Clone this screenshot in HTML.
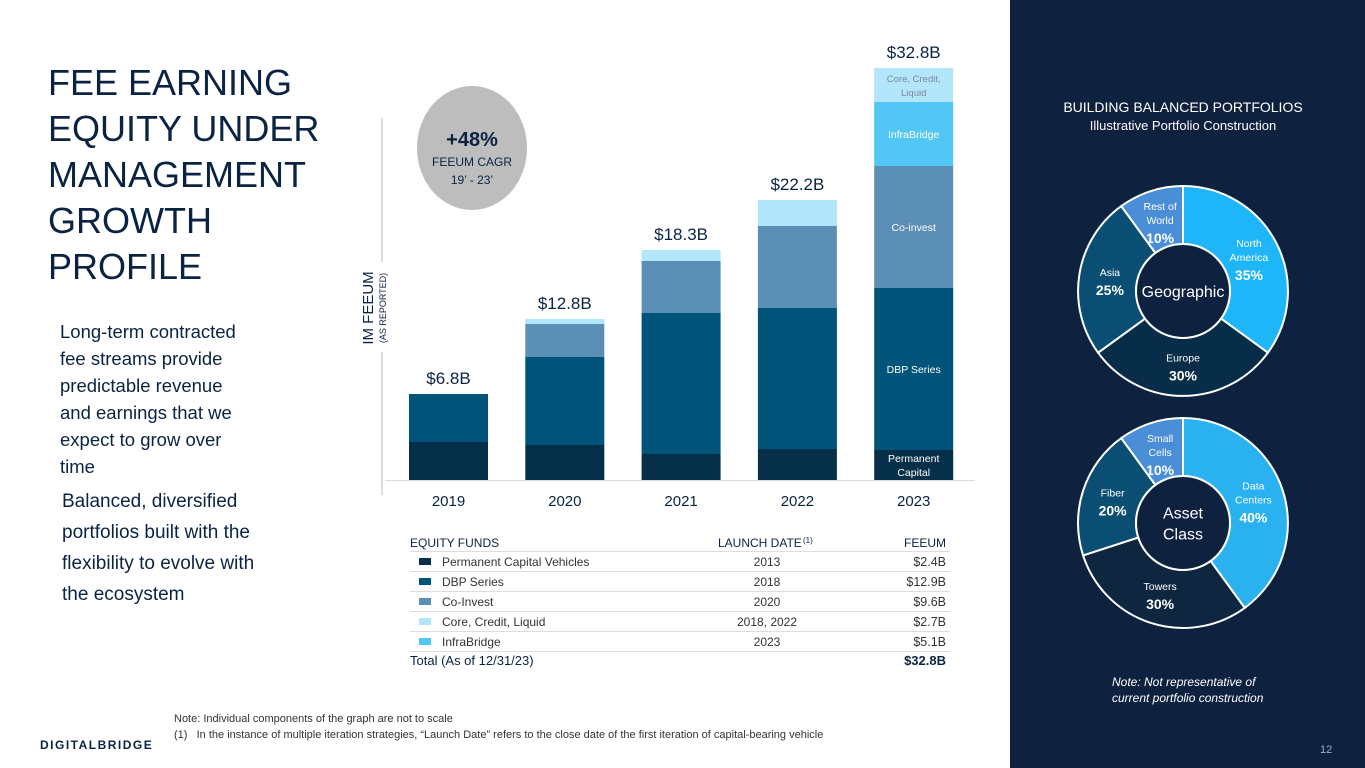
<!DOCTYPE html>
<html><head><meta charset="utf-8"><style>
body{margin:0;width:1365px;height:768px;position:relative;background:#fff;font-family:"Liberation Sans",sans-serif;overflow:hidden}
.a{position:absolute}
</style></head><body>
<div class="a" style="left:48px;top:60px;font-size:36px;line-height:46px;color:#0b2343;width:290px">FEE EARNING EQUITY UNDER MANAGEMENT GROWTH PROFILE</div>
<div class="a" style="left:60px;top:318px;font-size:18.5px;line-height:27px;color:#0b2343;width:240px">Long-term contracted<br>fee streams provide<br>predictable revenue<br>and earnings that we<br>expect to grow over<br>time</div>
<div class="a" style="left:62px;top:486px;font-size:19px;line-height:31px;color:#0b2343;width:260px">Balanced, diversified<br>portfolios built with the<br>flexibility to evolve with<br>the ecosystem</div>
<div class="a" style="left:174px;top:711px;font-size:11px;line-height:16px;color:#333">Note: Individual components of the graph are not to scale<br>(1)&nbsp;&nbsp; In the instance of multiple iteration strategies, “Launch Date” refers to the close date of the first iteration of capital-bearing vehicle</div>
<div class="a" style="left:40px;top:738px;font-size:12px;letter-spacing:1.5px;color:#0b2343;font-weight:bold">DIGITALBRIDGE</div>
<div class="a" style="left:1010px;top:0;width:355px;height:768px;background:#0e2240"></div>
<div class="a" style="left:1010px;width:346px;top:98px;text-align:center;color:#fff;font-size:14px;line-height:18px">BUILDING BALANCED PORTFOLIOS<br><span style="font-size:13px">Illustrative Portfolio Construction</span></div>
<div class="a" style="left:1112px;top:674px;color:#fff;font-size:12px;font-style:italic;line-height:16px">Note: Not representative of<br>current portfolio construction</div>
<div class="a" style="left:1320px;top:744px;color:#aab;font-size:11px">12</div>
<svg id="chart" class="a" style="left:0;top:0" width="1010" height="700"></svg>
<svg id="donuts" class="a" style="left:1010px;top:0" width="355" height="768"></svg>
<script>
const years=["2019","2020","2021","2022","2023"];
const totals=["$6.8B","$12.8B","$18.3B","$22.2B","$32.8B"];
const permanent=[38,35,26,31,30];
const dbp=[48,88,141,141,162];
const coinvest=[0,33,52,82,122];
const core=[0,5,11,26,34];
const infra=[0,0,0,0,64];
const seriesColors=["#06304a","#005479","#5b8fb5","#b3e5fb","#52c6f5"];
const segLabels=[["Permanent","Capital"],["DBP Series"],["Co-invest"],["Core, Credit,","Liquid"],["InfraBridge"]];
const NS="http://www.w3.org/2000/svg";
const svg=document.getElementById('chart');
function mk(t,at,p){const e=document.createElementNS(NS,t);for(const k in at)e.setAttribute(k,at[k]);(p||svg).appendChild(e);return e;}
const base=480;
const y=v=>base-v;
const x=i=>409+i*116.3;
const bw=79;
mk('line',{x1:385,x2:975,y1:base+.5,y2:base+.5,stroke:'#d9d9d9'});
mk('line',{x1:382,x2:382,y1:118,y2:262,stroke:'#bbb'});
mk('line',{x1:382,x2:382,y1:352,y2:495,stroke:'#bbb'});
let t=mk('text',{x:0,y:0,transform:'translate(373,308) rotate(-90)','text-anchor':'middle','font-size':15,fill:'#0b2343'});t.textContent='IM FEEUM';


t=mk('text',{x:0,y:0,transform:'translate(386,308) rotate(-90)','text-anchor':'middle','font-size':9,fill:'#0b2343'});t.textContent='(AS REPORTED)';


const series=[permanent,dbp,coinvest,core,infra];
const order=[0,1,2,4,3];
years.forEach((yr,i)=>{
  let acc=0;
  order.forEach(s=>{
    const v=series[s][i]; if(!v)return;
    const r=mk('rect',{x:x(i),y:y(acc+v),width:bw,height:v,fill:seriesColors[s]});
    
    
    if(i===4){const L=segLabels[s];const cy=y(acc+v/2);L.forEach((l,k)=>{const tt=mk('text',{x:x(i)+bw/2,y:cy+4+(k-(L.length-1)/2)*14,'text-anchor':'middle','font-size':s===3?9.5:10.5,fill:s===3?'#7a8a9a':'#fff'});tt.textContent=l;});}
    acc+=v;
  });
  const tl=mk('text',{x:x(i)+bw/2,y:y(acc)-10,'text-anchor':'middle','font-size':17,fill:'#0b2343'});tl.textContent=totals[i];
  
  
  const xl=mk('text',{x:x(i)+bw/2,y:506,'text-anchor':'middle','font-size':15,fill:'#0b2343'});xl.textContent=yr;
  
  
});
const c=mk('ellipse',{cx:472,cy:148,rx:55,ry:62,fill:'#bdbdbd'});


[['+48%',146,20,'bold'],['FEEUM CAGR',166,12,'normal'],['19’ - 23’',184,12,'normal']].forEach(a=>{const e=mk('text',{x:472,y:a[1],'text-anchor':'middle','font-size':a[2],'font-weight':a[3],fill:'#0b2343'});e.textContent=a[0];});
// table
const fundNames=["Permanent Capital Vehicles","DBP Series","Co-Invest","Core, Credit, Liquid","InfraBridge"];
const launch=["2013","2018","2020","2018, 2022","2023"];
const feeum=["$2.4B","$12.9B","$9.6B","$2.7B","$5.1B"];
const tcol=["#06304a","#005479","#5b8fb5","#b3e5fb","#52c6f5"];
[['EQUITY FUNDS',410,'start'],['LAUNCH DATE',718,'start'],['FEEUM',946,'end']].forEach(h=>{const e=mk('text',{x:h[1],y:547,'text-anchor':h[2],'font-size':12,fill:'#0b2343'});e.textContent=h[0];});
t=mk('text',{x:803,y:543,'font-size':8,fill:'#0b2343'});t.textContent='(1)';
fundNames.forEach((n,i)=>{const ry=566+i*20;
 mk('line',{x1:410,x2:950,y1:ry-14.5,y2:ry-14.5,stroke:'#ddd'});
 const sw=mk('rect',{x:419,y:ry-8,width:12,height:7,fill:tcol[i]});
 
 
 let e=mk('text',{x:442,y:ry,'font-size':12,fill:'#333'});e.textContent=n;
 e=mk('text',{x:767,y:ry,'text-anchor':'middle','font-size':12,fill:'#333'});e.textContent=launch[i];
 e=mk('text',{x:946,y:ry,'text-anchor':'end','font-size':12.5,fill:'#333'});e.textContent=feeum[i];});
mk('line',{x1:410,x2:950,y1:651.5,y2:651.5,stroke:'#ddd'});
t=mk('text',{x:410,y:665,'font-size':13,fill:'#0b2343'});t.textContent='Total (As of 12/31/23)';
t=mk('text',{x:946,y:665,'text-anchor':'end','font-size':13,'font-weight':'bold',fill:'#0b2343'});t.textContent='$32.8B';
// donuts
const geoNames=[["North","America"],["Europe"],["Asia"],["Rest of","World"]];
const geoValues=[35,30,25,10];
const geoColors=["#1fb6f9","#082d48","#0a4f73","#4a8ed8"];
const assetNames=[["Data","Centers"],["Towers"],["Fiber"],["Small","Cells"]];
const assetValues=[40,30,20,10];
const assetColors=["#29b1f0","#0f2641","#0a4f73","#4a8ed8"];
const ds=document.getElementById('donuts');
function donut(cx,cy,names,vals,cols,center,nm){
 const R=105,r=47;let a0=-Math.PI/2;const tot=vals.reduce((p,q)=>p+q,0);
 vals.forEach((v,i)=>{const a1=a0+v/tot*2*Math.PI;const lg=(a1-a0)>Math.PI?1:0;
  const P=(rr,a)=>(cx+rr*Math.cos(a)).toFixed(1)+','+(cy+rr*Math.sin(a)).toFixed(1);
  const p=mk('path',{d:`M${P(R,a0)}A${R},${R} 0 ${lg} 1 ${P(R,a1)}L${P(r,a1)}A${r},${r} 0 ${lg} 0 ${P(r,a0)}Z`,fill:cols[i],stroke:'#fff','stroke-width':2},ds);
  
  
  const am=(a0+a1)/2,lr=74;const lx=cx+lr*Math.cos(am),ly=cy+lr*Math.sin(am)+3;
  const L=names[i];const h=L.length*14+19;const top=ly-h/2;
  L.forEach((l,k)=>{const e=mk('text',{x:lx,y:top+10+k*14,'text-anchor':'middle','font-size':10.5,fill:'#fff'},ds);e.textContent=l;});
  const e=mk('text',{x:lx,y:top+L.length*14+15,'text-anchor':'middle','font-size':14,'font-weight':'bold',fill:'#fff'},ds);e.textContent=v+'%';
  a0=a1;});
 mk('circle',{cx:cx,cy:cy,r:r,fill:'#0e2240',stroke:'#fff','stroke-width':2},ds);
 center.forEach((l,k)=>{const e=mk('text',{x:cx,y:cy+6+(k-(center.length-1)/2)*21,'text-anchor':'middle','font-size':16,fill:'#fff'},ds);e.textContent=l;});
}
donut(173,291,geoNames,geoValues,geoColors,["Geographic"],'geo');
donut(173,523,assetNames,assetValues,assetColors,["Asset","Class"],'asset');
</script>
</body></html>
